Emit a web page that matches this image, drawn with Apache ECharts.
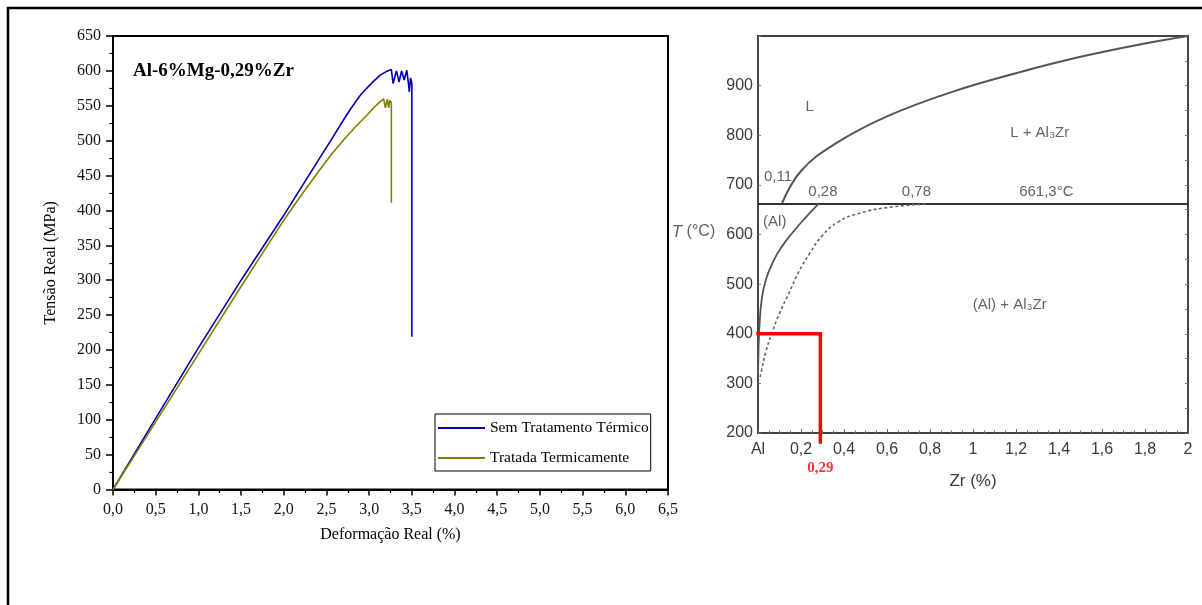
<!DOCTYPE html>
<html>
<head>
<meta charset="utf-8">
<title>Al-6%Mg-0,29%Zr</title>
<script src="https://cdn.jsdelivr.net/npm/echarts@6.0.0/dist/echarts.min.js"></script>
<style>
  html, body { margin: 0; padding: 0; background: #fff; }
  #chart { width: 1202px; height: 605px; }
</style>
</head>
<body>
<div id="chart"></div>
<script>
// Stress-strain curves (strain in %, true stress in MPa)
const semTratStrain = [0, 0.25, 0.5, 1.0, 1.5, 2.0, 2.42, 2.55, 2.66, 2.78, 2.89, 2.97, 3.05, 3.13, 3.2, 3.26,
  3.28, 3.32, 3.35, 3.38, 3.41, 3.44, 3.46, 3.47, 3.485, 3.5, 3.5];
const semTratStress = [0, 51, 102, 203, 300, 393, 475, 500, 522, 545, 564, 575, 585, 594, 599, 602,
  582, 600, 584, 600, 587, 601, 582, 570, 590, 582, 219];

const tratadaStrain = [0, 0.5, 1.0, 1.5, 2.0, 2.2, 2.42, 2.55, 2.7, 2.84, 2.97, 3.06, 3.13, 3.17,
  3.19, 3.21, 3.23, 3.24, 3.26, 3.26];
const tratadaStress = [0, 97, 194, 291, 386, 421, 458, 479, 501, 520, 536, 548, 556, 560,
  547, 559, 547, 558, 554, 411];

// Al-Zr phase diagram (Zr in %, temperature in °C)
const eutecticT = 661.3;
const invariantZr = [0.11, 0.28, 0.78];
const liquidusZr = [0.11, 0.2, 0.36, 0.6, 0.9, 1.2, 1.5, 1.8, 2.0];
const liquidusT  = [661.3, 728, 783, 838, 887, 925, 958, 985, 1000];
const solvusZr = [0.28, 0.219, 0.163, 0.11, 0.07, 0.036, 0.017, 0.008, 0.003, 0];
const solvusT  = [661.3, 633, 605, 575, 545, 508, 468, 424, 377, 300];
const metaZr = [0.78, 0.614, 0.474, 0.372, 0.298, 0.242, 0.19, 0.144, 0.101, 0.065, 0.036, 0.017, 0.008];
const metaT  = [661.3, 655, 643, 625, 597, 563, 525, 482, 442, 402, 363, 327, 308];
const alloyZr = 0.29;
const alloyT = 400;

const zip = (xs, ys) => xs.map((x, i) => [x, ys[i]]);
const comma = v => String(v).replace('.', ',');

const serif = "'Liberation Serif', 'Times New Roman', serif";
const sans = "'Liberation Sans', Arial, sans-serif";
const grayInk = '#3a3a3a';

const chart = echarts.init(document.getElementById('chart'), null, { renderer: 'canvas' });

const textPoint = (x, y, text, extra) => ({
  value: [x, y],
  label: Object.assign({ show: true, position: 'inside', formatter: text }, extra || {})
});

const option = {
  animation: false,
  backgroundColor: '#fff',
  graphic: [{
    type: 'rect',
    shape: { x: 8, y: 8, width: 1220, height: 640 },
    style: { fill: null, stroke: '#000', lineWidth: 2.5 },
    silent: true
  }],
  title: {
    text: 'Al-6%Mg-0,29%Zr',
    left: 133, top: 62, padding: 0,
    textStyle: { fontFamily: serif, fontWeight: 'bold', fontSize: 19, color: '#000', lineHeight: 19 }
  },
  legend: {
    data: ['Sem Tratamento Térmico', 'Tratada Termicamente'],
    orient: 'vertical',
    left: 435, top: 414,
    icon: 'rect',
    itemWidth: 47, itemHeight: 2, itemGap: 14,
    borderColor: '#000', borderWidth: 1,
    padding: [6, 2, 5, 3],
    textStyle: { fontFamily: serif, fontSize: 15.5, color: '#000' }
  },
  grid: [
    { left: 113, right: 534, top: 36, bottom: 115.5, show: true, borderColor: '#000', borderWidth: 2 },
    { left: 758, right: 14, top: 36, bottom: 172, show: true, borderColor: '#444', borderWidth: 2 }
  ],
  xAxis: [
    {
      gridIndex: 0, type: 'value', min: 0, max: 6.5, interval: 0.5,
      name: 'Deformação Real (%)', nameLocation: 'middle', nameGap: 37,
      nameTextStyle: { fontFamily: serif, fontSize: 16, color: '#000' },
      axisLine: { lineStyle: { color: '#000', width: 2 } },
      axisTick: { length: 6, lineStyle: { color: '#000', width: 1.5 } },
      minorTick: { show: true, splitNumber: 2, length: 3.5, lineStyle: { color: '#000', width: 1.2 } },
      splitLine: { show: false },
      axisLabel: { fontFamily: serif, fontSize: 16, color: '#111', margin: 12,
        formatter: v => v.toFixed(1).replace('.', ',') }
    },
    {
      gridIndex: 1, type: 'value', min: 0, max: 2, interval: 0.2,
      name: 'Zr (%)', nameLocation: 'middle', nameGap: 40,
      nameTextStyle: { fontFamily: sans, fontSize: 17, color: grayInk },
      axisLine: { lineStyle: { color: '#444', width: 2 } },
      axisTick: { inside: true, length: 4, lineStyle: { color: '#666' } },
      minorTick: { show: true, splitNumber: 4, length: 2.5, lineStyle: { color: '#777' } },
      splitLine: { show: false },
      axisLabel: { fontFamily: sans, fontSize: 16, color: grayInk, margin: 9,
        formatter: v => v === 0 ? 'Al' : comma(+v.toFixed(1)) }
    }
  ],
  yAxis: [
    {
      gridIndex: 0, type: 'value', min: 0, max: 650, interval: 50,
      name: 'Tensão Real (MPa)', nameLocation: 'middle', nameGap: 54,
      nameTextStyle: { fontFamily: serif, fontSize: 16, color: '#000' },
      axisLine: { lineStyle: { color: '#000', width: 2 } },
      axisTick: { length: 7, lineStyle: { color: '#000', width: 1.5 } },
      minorTick: { show: true, splitNumber: 2, length: 3.5, lineStyle: { color: '#000', width: 1.2 } },
      splitLine: { show: false },
      axisLabel: { fontFamily: serif, fontSize: 16, color: '#111', margin: 12 }
    },
    {
      gridIndex: 1, type: 'value', min: 200, max: 1000, interval: 100,
      axisLine: { lineStyle: { color: '#444', width: 2 } },
      axisTick: { inside: true, length: 3, lineStyle: { color: '#777' } },
      splitLine: { show: false },
      axisLabel: { fontFamily: sans, fontSize: 16, color: grayInk, margin: 5,
        formatter: v => v >= 1000 ? '' : String(v) }
    },
    {
      gridIndex: 1, type: 'value', min: 200, max: 1000, interval: 50, position: 'right',
      axisLine: { show: true, lineStyle: { color: '#444', width: 2 } },
      axisTick: { inside: true, length: 3, lineStyle: { color: '#777' } },
      axisLabel: { show: false },
      splitLine: { show: false }
    }
  ],
  series: [
    {
      name: 'Sem Tratamento Térmico', type: 'line', xAxisIndex: 0, yAxisIndex: 0,
      data: zip(semTratStrain, semTratStress), showSymbol: false, symbol: 'none',
      color: '#0000b0', lineStyle: { color: '#0000b0', width: 1.6 }
    },
    {
      name: 'Tratada Termicamente', type: 'line', xAxisIndex: 0, yAxisIndex: 0,
      data: zip(tratadaStrain, tratadaStress), showSymbol: false, symbol: 'none',
      color: '#808000', lineStyle: { color: '#808000', width: 1.6 }
    },
    // liquidus
    {
      type: 'line', xAxisIndex: 1, yAxisIndex: 1, smooth: 0.4, symbol: 'none',
      data: zip(liquidusZr, liquidusT), lineStyle: { color: '#555', width: 2 }
    },
    // eutectic isotherm
    {
      type: 'line', xAxisIndex: 1, yAxisIndex: 1, symbol: 'none',
      data: [[0, eutecticT], [2, eutecticT]], lineStyle: { color: '#333', width: 2 }
    },
    // equilibrium solvus
    {
      type: 'line', xAxisIndex: 1, yAxisIndex: 1, smooth: 0.5, symbol: 'none',
      data: zip(solvusZr, solvusT), lineStyle: { color: '#555', width: 1.8 }
    },
    // metastable solvus
    {
      type: 'line', xAxisIndex: 1, yAxisIndex: 1, smooth: 0.5, symbol: 'none',
      data: zip(metaZr, metaT), lineStyle: { color: '#666', width: 1.6, type: [3, 2.5] }
    },
    // alloy composition and temperature
    {
      type: 'line', xAxisIndex: 1, yAxisIndex: 1, symbol: 'none', clip: false, z: 5,
      data: [[0, alloyT], [alloyZr, alloyT], [alloyZr, 182]],
      lineStyle: { color: '#ff0000', width: 3.5, cap: 'square', join: 'miter' }
    },
    // region and point annotations
    {
      type: 'scatter', xAxisIndex: 1, yAxisIndex: 1, symbolSize: 0, clip: false, silent: true,
      label: { fontFamily: sans, fontSize: 15, color: grayInk },
      data: [
        textPoint(0.24, 858, 'L'),
        textPoint(1.31, 804, 'L + Al₃Zr'),
        textPoint(invariantZr[0] - 0.017, 716, comma(invariantZr[0])),
        textPoint(invariantZr[1] + 0.022, 686, comma(invariantZr[1])),
        textPoint(invariantZr[2] - 0.043, 686, comma(invariantZr[2])),
        textPoint(1.341, 686, comma(eutecticT) + '°C'),
        textPoint(0.078, 626, '(Al)'),
        textPoint(1.171, 458, '(Al) + Al₃Zr'),
        textPoint(alloyZr, 130, comma(alloyZr), { fontFamily: serif, fontWeight: 'bold', fontSize: 15, color: '#ff0000' }),
        textPoint(-0.3, 605, '{i|T} (°C)', {
          fontSize: 16,
          rich: { i: { fontFamily: sans, fontStyle: 'italic', fontSize: 17, color: grayInk } }
        })
      ]
    }
  ]
};

chart.setOption(option);
</script>
</body>
</html>
